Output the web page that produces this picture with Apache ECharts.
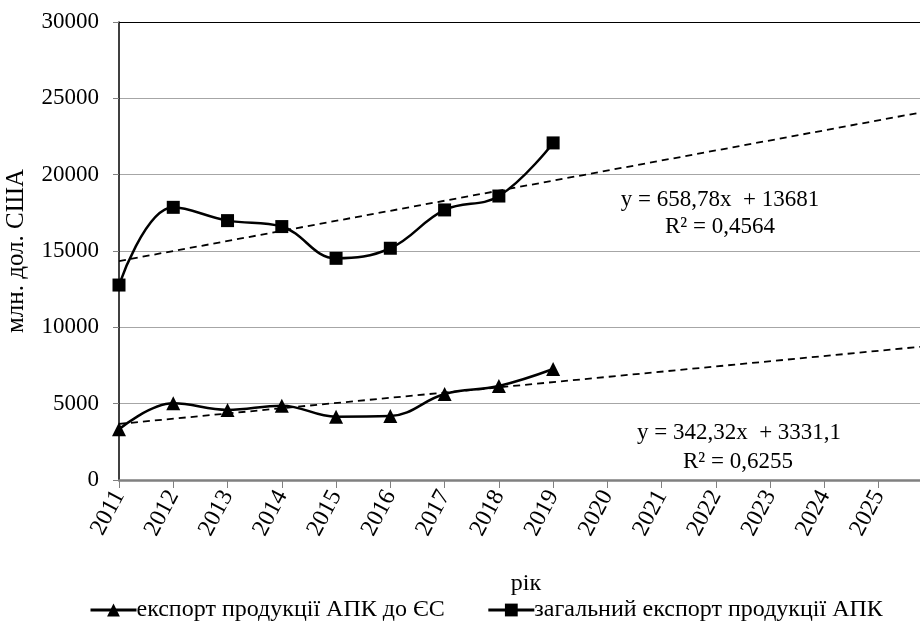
<!DOCTYPE html>
<html>
<head>
<meta charset="utf-8">
<script src="https://cdn.jsdelivr.net/npm/echarts@6/dist/echarts.min.js"></script>
<style>
html,body{margin:0;padding:0;background:#fff;}
#chart{width:920px;height:631px;}
</style>
</head>
<body>
<div id="chart"></div>
<script>
// --- data ---
const years = [2011, 2012, 2013, 2014, 2015, 2016, 2017, 2018, 2019];
const exportEU = [3320, 5020, 4590, 4870, 4150, 4190, 5630, 6160, 7270];
const exportTotal = [12770, 17860, 16990, 16600, 14520, 15180, 17690, 18600, 22080];
const trendEU = [[2011, 3673], [2026, 8808]];
const trendTotal = [[2011, 14340], [2026, 24222]];
const eqTotal = ['y = 658,78x  + 13681', 'R² = 0,4564'];
const eqEU = ['y = 342,32x  + 3331,1', 'R² = 0,6255'];
const seriesNames = ['експорт продукції АПК до ЄС', 'загальний експорт продукції АПК'];
const yAxisName = 'млн. дол. США';
const xAxisName = 'рік';

const FONT = 'Liberation Serif';
const chart = echarts.init(document.getElementById('chart'));
const pairs = (xs, ys) => xs.map((x, i) => [x, ys[i]]);
const eqFont = '23px "Liberation Serif"';
const G = '#a6a6a6';

chart.setOption({
  animation: false,
  textStyle: {fontFamily: FONT, color: '#000'},
  grid: {left: 119, right: -13, top: 22, bottom: 151, containLabel: false, outerBoundsMode: 'none'},
  xAxis: {
    type: 'value', min: 2011, max: 2026, interval: 1,
    name: xAxisName, nameLocation: 'middle', nameGap: 92,
    nameTextStyle: {fontFamily: FONT, fontSize: 24, color: '#000'},
    axisLine: {show: true, lineStyle: {color: '#808080', width: 2.5}},
    axisTick: {show: true, length: 8, lineStyle: {color: '#808080', width: 1}},
    splitLine: {show: false},
    axisLabel: {
      rotate: 62, margin: 12, fontFamily: FONT, fontSize: 24, color: '#000',
      formatter: v => (v >= 2026 ? '' : String(v))
    }
  },
  yAxis: {
    type: 'value', min: 0, max: 30000, interval: 5000,
    name: yAxisName, nameLocation: 'middle', nameGap: 90,
    nameTextStyle: {fontFamily: FONT, fontSize: 25, color: '#000'},
    axisLine: {show: true, lineStyle: {color: '#000', width: 1.5}},
    axisTick: {show: true, length: 6, lineStyle: {color: '#808080'}},
    splitLine: {show: true, lineStyle: {color: [G, G, G, G, G, G, '#000'], width: 1.2}},
    axisLabel: {margin: 20, fontFamily: FONT, fontSize: 23, color: '#000', formatter: v => String(v)}
  },
  legend: {
    bottom: 4, left: 84, itemGap: 42, itemWidth: 46, itemHeight: 16,
    lineStyle: {width: 3},
    textStyle: {fontFamily: FONT, fontSize: 24, color: '#000', padding: [0, 0, 0, -5]},
    data: seriesNames
  },
  graphic: [
    {type: 'text', x: 720, y: 200, style: {text: eqTotal[0], font: eqFont, fill: '#000', align: 'center', verticalAlign: 'middle'}},
    {type: 'text', x: 720, y: 227, style: {text: eqTotal[1], font: eqFont, fill: '#000', align: 'center', verticalAlign: 'middle'}},
    {type: 'text', x: 739, y: 433, style: {text: eqEU[0], font: eqFont, fill: '#000', align: 'center', verticalAlign: 'middle'}},
    {type: 'text', x: 738, y: 462, style: {text: eqEU[1], font: eqFont, fill: '#000', align: 'center', verticalAlign: 'middle'}}
  ],
  series: [
    {
      name: seriesNames[0], type: 'line', data: pairs(years, exportEU),
      smooth: 0.4, symbol: 'triangle', symbolSize: 14,
      lineStyle: {color: '#000', width: 2.5}, itemStyle: {color: '#000'}, z: 3
    },
    {
      name: seriesNames[1], type: 'line', data: pairs(years, exportTotal),
      smooth: 0.4, symbol: 'rect', symbolSize: 13,
      lineStyle: {color: '#000', width: 2.5}, itemStyle: {color: '#000'}, z: 3
    },
    {
      type: 'line', data: trendEU, symbol: 'none', silent: true,
      lineStyle: {color: '#000', width: 1.8, type: [7, 5]}, z: 2
    },
    {
      type: 'line', data: trendTotal, symbol: 'none', silent: true,
      lineStyle: {color: '#000', width: 1.8, type: [7, 5]}, z: 2
    }
  ]
});
</script>
</body>
</html>
